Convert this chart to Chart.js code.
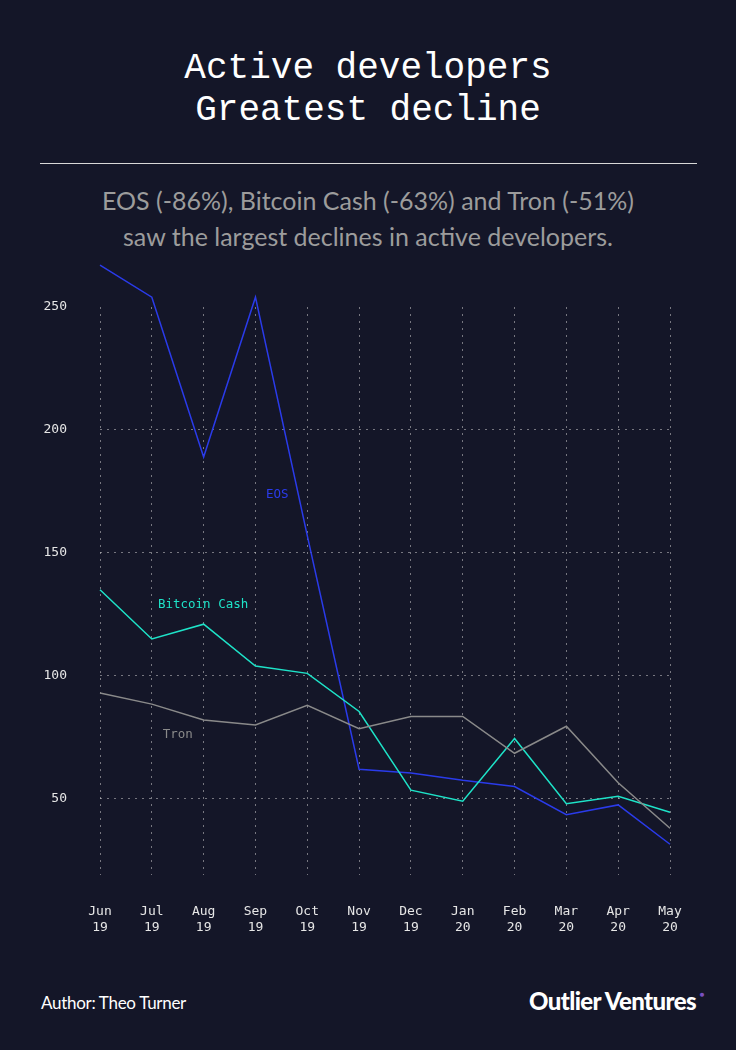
<!DOCTYPE html>
<html>
<head>
<meta charset="utf-8">
<script src="https://cdn.jsdelivr.net/npm/chart.js@4"></script>
<style>
  html, body { margin: 0; padding: 0; }
  body { width: 736px; height: 1050px; background: #141628; position: relative; overflow: hidden; }
  .title { position: absolute; top: 48px; left: 0; width: 736px; text-align: center; color: #fff;
           font-family: "Liberation Mono", monospace; font-size: 36px; line-height: 42px; }
  .rule { position: absolute; top: 163px; left: 40px; width: 657px; height: 1px; background: #d8d8d8; }
  .sub { position: absolute; top: 182px; left: 0; width: 736px; text-align: center; color: #9c9c9c;
         font-family: Lato, "Noto Sans", sans-serif; font-size: 25px; line-height: 36px; }
  .author { position: absolute; top: 992px; left: 41px; color: #fff; font-family: Lato, sans-serif; font-size: 17px; letter-spacing: -0.3px; }
  .brand { position: absolute; top: 986px; right: 40px; color: #fff; font-family: Lato, sans-serif; font-weight: 900; font-size: 24px; letter-spacing: -0.6px; }
  .brand span { position: absolute; right: -8px; top: 3px; color: #7a4fc0; font-size: 8px; }
  #wrap { position: absolute; left: 0; top: 240px; width: 736px; height: 710px; }
</style>
</head>
<body>
<div class="title">Active developers<br>Greatest decline</div>
<div class="rule"></div>
<div class="sub">EOS (-86%), Bitcoin Cash (-63%) and Tron (-51%)<br>saw the largest declines in active developers.</div>
<div id="wrap"><canvas id="chart"></canvas></div>
<div class="author">Author: Theo Turner</div>
<div class="brand">Outlier Ventures<span>●</span></div>
<script>
// months (two-line labels)
const months = [['Jun', '19'], ['Jul', '19'], ['Aug', '19'], ['Sep', '19'], ['Oct', '19'], ['Nov', '19'],
                ['Dec', '19'], ['Jan', '20'], ['Feb', '20'], ['Mar', '20'], ['Apr', '20'], ['May', '20']];
// active developers
const eos = [267, 254, 189, 254, 157, 62, 60.5, 57.5, 55, 43.5, 47.5, 31.5];
const bitcoinCash = [135, 115, 121, 104, 101, 85.5, 53.5, 49, 74.5, 48, 51, 44.5];
const tron = [93, 88.5, 82, 80, 88, 78.5, 83.5, 83.5, 68.5, 79.5, 56.5, 38];
const yTicks = [50, 100, 150, 200, 250];

const mono = '"DejaVu Sans Mono", monospace';
const gridCol = 'rgba(200,200,200,0.55)';

// series names written next to the lines
const seriesLabels = [
  { text: 'EOS', x: 3.42, y: 173.5, color: '#2a3bea' },
  { text: 'Bitcoin Cash', x: 1.99, y: 129, color: '#1ee3c8' },
  { text: 'Tron', x: 1.5, y: 76, color: '#8a8a8a' }
];

const lineLabels = {
  id: 'lineLabels',
  afterDatasetsDraw(chart) {
    const { ctx, scales } = chart;
    ctx.save();
    ctx.font = '12.5px ' + mono;
    ctx.textAlign = 'center';
    ctx.textBaseline = 'middle';
    seriesLabels.forEach(l => {
      ctx.fillStyle = l.color;
      ctx.fillText(l.text, scales.x.getPixelForValue(l.x), scales.y.getPixelForValue(l.y));
    });
    ctx.restore();
  }
};

const ds = (label, data, color) => ({
  label, data, borderColor: color, borderWidth: 1.5, pointRadius: 0, tension: 0, clip: false
});

new Chart(document.getElementById('chart'), {
  type: 'line',
  data: {
    labels: months,
    datasets: [ds('Tron', tron, '#8a8a8a'), ds('Bitcoin Cash', bitcoinCash, '#1ee3c8'), ds('EOS', eos, '#2a3bea')]
  },
  options: {
    responsive: true,
    maintainAspectRatio: false,
    animation: false,
    layout: { padding: { top: 67, right: 66, left: 0, bottom: 0 } },
    plugins: { legend: { display: false }, tooltip: { enabled: false } },
    scales: {
      x: {
        offset: false,
        border: { display: false, dash: [2, 5] },
        grid: { color: gridCol, lineWidth: 1, drawTicks: false },
        ticks: { color: '#e6e6e6', font: { family: mono, size: 13 }, padding: 29, maxRotation: 0, autoSkip: false },
        afterFit(axis) { axis.height = 75; }
      },
      y: {
        min: 19, max: 250,
        border: { display: false, dash: [2, 5] },
        grid: {
          color: c => (c.tick && c.tick.value === 250) ? 'rgba(0,0,0,0)' : gridCol,
          lineWidth: 1, drawTicks: false
        },
        ticks: { color: '#e6e6e6', font: { family: mono, size: 13 }, padding: 33 },
        afterBuildTicks(axis) { axis.ticks = yTicks.map(v => ({ value: v })); },
        afterFit(axis) { axis.width = 100; }
      }
    }
  },
  plugins: [lineLabels]
});
</script>
</body>
</html>
